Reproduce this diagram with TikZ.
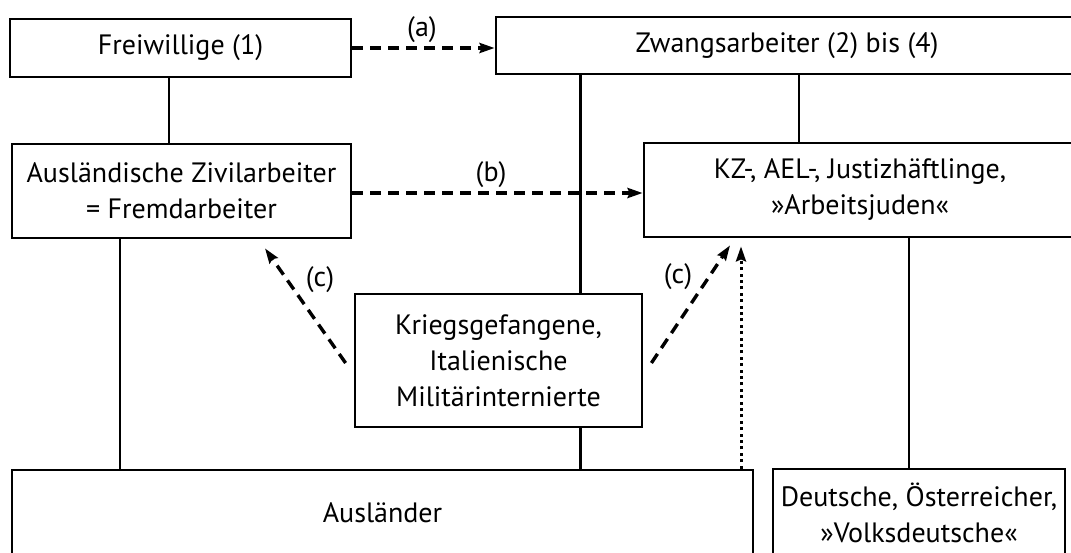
\documentclass[tikz,border=0pt]{standalone}
\usepackage{fontspec}
\setmainfont{PT Sans}
\usetikzlibrary{arrows.meta}
\begin{document}
\begin{tikzpicture}[x=1pt,y=-1pt,
  box/.style={draw=black,line width=2.8pt,fill=white,inner sep=0pt,align=center,
    font=\fontsize{28}{36}\selectfont},
  conn/.style={line width=2.6pt},
  dasharrow/.style={line width=3.4pt,dash pattern=on 11pt off 7pt,
    -{Stealth[length=15pt,width=10pt,inset=2pt]}},
  dotarrow/.style={line width=3pt,dash pattern=on 3pt off 3.4pt,
    -{Stealth[length=15pt,width=10pt,inset=2pt]}},
  lab/.style={font=\fontsize{28}{36}\selectfont,inner sep=0pt}]
\useasboundingbox (0,0) rectangle (1071,552);
\clip (0,0) rectangle (1071,552);
\fill[white] (0,0) rectangle (1071,552);
% boxes
\node[box,minimum width=341pt,minimum height=58pt] (frei) at (180.5,48) {Freiwillige (1)};
\node[box,minimum width=582pt,minimum height=57pt] (zwang) at (787,45.5) {Zwangsarbeiter (2) bis (4)};
\node[box,minimum width=339pt,minimum height=94pt] (ausl) at (181.5,191) {Ausländische Zivilarbeiter\\= Fremdarbeiter};
\node[box,minimum width=432pt,minimum height=94pt] (kz) at (860,190) {KZ-, AEL-, Justizhäftlinge,\\»Arbeitsjuden«};
\node[box,minimum width=287pt,minimum height=133pt] (krieg) at (498.5,360.5) {Kriegsgefangene,\\Italienische\\Militärinternierte};
\node[box,minimum width=741pt,minimum height=86pt] (auslaender) at (382.5,513) {Ausländer};
\node[box,minimum width=292pt,minimum height=88pt] (deutsche) at (919,513) {Deutsche, Österreicher,\\»Volksdeutsche«};
% x positions of vertical connectors
\coordinate (xa) at (169,0);
\coordinate (xb) at (120,0);
\coordinate (xc) at (580.5,0);
\coordinate (xd) at (799,0);
\coordinate (xe) at (909,0);
\coordinate (xf) at (741,0);
% solid connectors
\draw[conn] (frei.south -| xa) -- (ausl.north -| xa);
\draw[conn] (ausl.south -| xb) -- (auslaender.north -| xb);
\draw[conn] (zwang.south -| xc) -- (krieg.north -| xc);
\draw[conn] (krieg.south -| xc) -- (auslaender.north -| xc);
\draw[conn] (zwang.south -| xd) -- (kz.north -| xd);
\draw[conn] (kz.south -| xe) -- (deutsche.north -| xe);
% dashed arrows
\draw[dasharrow] (frei.east) -- (zwang.west |- frei.east);
\draw[dasharrow] ([yshift=-2pt]ausl.east) -- ([yshift=-2pt]kz.west |- ausl.east);
\draw[dasharrow] ([xshift=-8pt,yshift=-2.5pt]krieg.west) -- ([xshift=83.5pt,yshift=-9pt]ausl.south);
\draw[dasharrow] ([xshift=8pt,yshift=-2.5pt]krieg.east) -- ([xshift=-130pt,yshift=-7pt]kz.south);
% dotted arrow
\draw[dotarrow] (auslaender.north -| xf) -- ([yshift=-8pt]kz.south -| xf);
% labels
\node[lab] (la) at (422,30) {(a)};
\node[lab] (lb) at (491,175) {(b)};
\node[lab] (lc1) at (320,280) {(c)};
\node[lab] (lc2) at (678,277) {(c)};
\end{tikzpicture}
\end{document}
